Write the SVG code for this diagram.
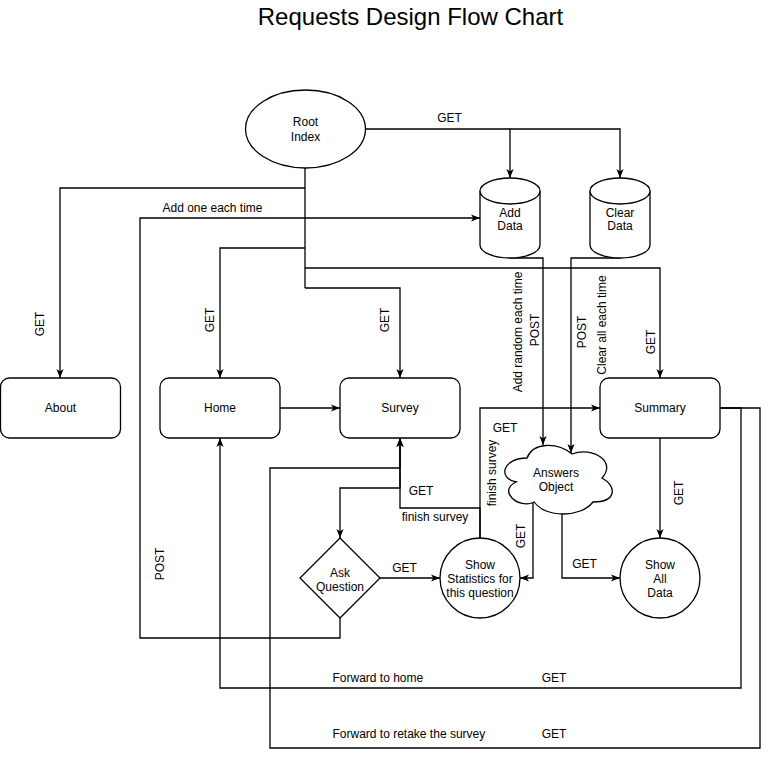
<svg xmlns="http://www.w3.org/2000/svg" width="769" height="757" viewBox="0 0 769 757">
<style>
.n{fill:#fff;stroke:#000;stroke-width:1.3}
.c path{fill:none;stroke:#000;stroke-width:1.3}
.arr{marker-end:url(#ah)}
text{font-family:"Liberation Sans",Arial,Helvetica,sans-serif;font-size:12px;fill:#000;text-anchor:middle}
.t{font-size:24px}
.l{text-anchor:start}
</style>
<defs>
<marker id="ah" markerUnits="userSpaceOnUse" viewBox="0 0 10 8" refX="10" refY="4" markerWidth="9" markerHeight="7.5" orient="auto">
<path d="M0,0 L10,4 L0,8 L2.5,4 Z" fill="#000"/>
</marker>
</defs>
<rect width="769" height="757" fill="#fff"/>
<text class="t" x="410.5" y="25">Requests Design Flow Chart</text>

<g class="c" id="connectors">
<path class="arr" d="M366,129 H620 V178"/>
<path class="arr" d="M510,129 V178"/>
<path d="M305,168 V288"/>
<path class="arr" d="M305,188 H60 V378"/>
<path class="arr" d="M305,248 H220 V378"/>
<path class="arr" d="M305,268 H660 V378"/>
<path class="arr" d="M305,288 H400 V378"/>
<path class="arr" d="M340,618 V638 H140 V218 H480"/>
<path class="arr" d="M280,408 H340"/>
<path class="arr" d="M510,258 H543 V445"/>
<path class="arr" d="M620,258 H571 V453"/>
<path class="arr" d="M660,438 V538"/>
<path class="arr" d="M720,408 H741 V688 H220 V438"/>
<path class="arr" d="M720,408 H760 V748 H270 V468 H400 V438"/>
<path class="arr" d="M400,438 V488 H340 V538"/>
<path class="arr" d="M480,538 V508 H400 V438"/>
<path class="arr" d="M480,538 V408 H600"/>
<path class="arr" d="M380,578 H440"/>
<path class="arr" d="M533,502 V578 H520"/>
<path class="arr" d="M562,514 V578 H620"/>
</g>

<g id="labels">
<text x="449.5" y="122">GET</text>
<text x="212.5" y="212">Add one each time</text>
<text transform="translate(40,324) rotate(-90)" y="4">GET</text>
<text transform="translate(210,320) rotate(-90)" y="4">GET</text>
<text transform="translate(385,320) rotate(-90)" y="4">GET</text>
<text transform="translate(518,332) rotate(-90)" y="4">Add random each time</text>
<text transform="translate(535,330) rotate(-90)" y="4">POST</text>
<text transform="translate(582,332) rotate(-90)" y="4">POST</text>
<text transform="translate(602,325) rotate(-90)" y="4">Clear all each time</text>
<text transform="translate(651,342) rotate(-90)" y="4">GET</text>
<text x="505" y="432">GET</text>
<text transform="translate(492,473) rotate(-90)" y="4">finish survey</text>
<text x="421" y="495">GET</text>
<text x="435" y="521">finish survey</text>
<text x="404.5" y="572">GET</text>
<text transform="translate(521,536) rotate(-90)" y="4">GET</text>
<text x="584.5" y="568">GET</text>
<text transform="translate(679,493) rotate(-90)" y="4">GET</text>
<text transform="translate(160,564) rotate(-90)" y="4">POST</text>
<text class="l" x="332.5" y="682">Forward to home</text>
<text x="554" y="682">GET</text>
<text class="l" x="332.5" y="738">Forward to retake the survey</text>
<text x="554" y="738">GET</text>
</g>

<g id="root">
<ellipse class="n" cx="305.5" cy="129" rx="60" ry="39"/>
<text x="305.5" y="126">Root</text>
<text x="305.5" y="141">Index</text>
</g>
<g id="adddata">
<path class="n" d="M480,191 A30,13 0 0 1 540,191 V245 A30,13 0 0 1 480,245 Z"/>
<path class="n" fill="none" d="M480,191 A30,13 0 0 0 540,191"/>
<text x="510" y="217">Add</text>
<text x="510" y="230">Data</text>
</g>
<g id="cleardata">
<path class="n" d="M590,191 A30,13 0 0 1 650,191 V245 A30,13 0 0 1 590,245 Z"/>
<path class="n" fill="none" d="M590,191 A30,13 0 0 0 650,191"/>
<text x="620" y="217">Clear</text>
<text x="620" y="230">Data</text>
</g>
<g id="about">
<rect class="n" x="0.5" y="378" width="120" height="60" rx="9"/>
<text x="60.5" y="412">About</text>
</g>
<g id="home">
<rect class="n" x="160" y="378" width="120" height="60" rx="9"/>
<text x="220" y="412">Home</text>
</g>
<g id="survey">
<rect class="n" x="340" y="378" width="120" height="60" rx="9"/>
<text x="400" y="412">Survey</text>
</g>
<g id="summary">
<rect class="n" x="600" y="378" width="120" height="60" rx="9"/>
<text x="660" y="412">Summary</text>
</g>
<g id="answers">
<path class="n" d="M527,458 C503,458 497,478 516.2,482 C497,490.8 518.6,510 534.2,502 C545,518 581,518 593,502 C617,502 617,486 602,478 C617,462 593,446 572,454 C557,442 533,442 527,458 Z"/>
<text x="556" y="476.5">Answers</text>
<text x="556" y="490.5">Object</text>
</g>
<g id="ask">
<path class="n" d="M340,538 L380,578 L340,618 L300,578 Z"/>
<text x="340" y="577">Ask</text>
<text x="340" y="591">Question</text>
</g>
<g id="stats">
<circle class="n" cx="480" cy="578" r="40"/>
<text x="480" y="569">Show</text>
<text x="480" y="583">Statistics for</text>
<text x="480" y="597">this question</text>
</g>
<g id="showall">
<circle class="n" cx="660" cy="578" r="40"/>
<text x="660" y="569">Show</text>
<text x="660" y="583">All</text>
<text x="660" y="597">Data</text>
</g>
</svg>
